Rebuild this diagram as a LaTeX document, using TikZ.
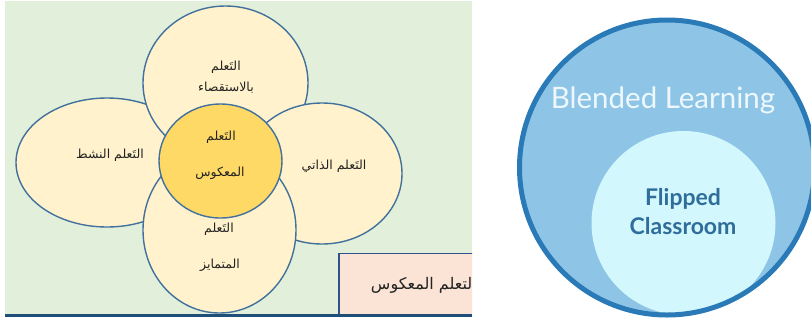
\documentclass[tikz,border=0pt]{standalone}
\usepackage{fontspec}
\setmainfont{Lato}
\newfontfamily\arabicfont[Script=Arabic]{DejaVu Sans}
\newfontfamily\latofont{Lato}
\TeXXeTstate=1
\usetikzlibrary{shapes.geometric}
\definecolor{bggreen}{HTML}{E2EFDA}
\definecolor{petalfill}{HTML}{FFF2CC}
\definecolor{petalline}{HTML}{41719C}
\definecolor{corefill}{HTML}{FFD966}
\definecolor{boxfill}{HTML}{FBE3D6}
\definecolor{boxline}{HTML}{2F528F}
\definecolor{bottomrule}{HTML}{1F4E79}
\definecolor{artext}{HTML}{222222}
\definecolor{outerfill}{HTML}{8EC5E6}
\definecolor{outerline}{HTML}{2A7AB8}
\definecolor{innerfill}{HTML}{D2F7FC}
\definecolor{innertext}{HTML}{2F6E9B}
\definecolor{blendtext}{HTML}{EEF8FC}
\begin{document}
\begin{tikzpicture}[x=1pt,y=-1pt,
  petal/.style={ellipse, draw=petalline, fill=petalfill, line width=1.4pt, inner sep=0pt},
  ar/.style={font=\arabicfont\fontsize{12.5}{14}\selectfont, text=artext, inner sep=0pt},
  arbig/.style={font=\arabicfont\fontsize{16}{18}\selectfont, text=artext, inner sep=0pt},
  entext/.style={font=\latofont\bfseries\fontsize{23}{25}\selectfont, text=innertext, inner sep=0pt}]
\useasboundingbox (0,0) rectangle (811,322);
% left panel
\begin{scope}
\clip (5,0) rectangle (472,318);
\fill[bggreen] (5,1) rectangle (472,314);
\node[petal, minimum width=182pt, minimum height=129pt] (pleft) at (107,162.5) {};
\node[petal, minimum width=165pt, minimum height=154pt] (ptop) at (225.5,83) {};
\node[petal, minimum width=160pt, minimum height=141pt] (pright) at (322,173.5) {};
\node[petal, minimum width=153pt, minimum height=166pt] (pbottom) at (219.5,230) {};
\node[ellipse, draw=petalline, fill=corefill, line width=1.4pt, inner sep=0pt, minimum width=123pt, minimum height=114pt] (core) at (220.5,161) {};
\node[ar] (t1) at (226,67) {\beginR التَعلم\endR};
\node[ar] (t2) at (226,88) {\beginR بالاستقصاء\endR};
\node[ar] (l1) at (110,155) {\beginR التَعلم النشط\endR};
\node[ar] (r1) at (334,166) {\beginR التَعلم الذاتي\endR};
\node[ar] (c1) at (221,137) {\beginR التَعلم\endR};
\node[ar] (c2) at (220,173) {\beginR المعكوس\endR};
\node[ar] (b1) at (219,229) {\beginR التَعلم\endR};
\node[ar] (b2) at (220,265) {\beginR المتمايز\endR};
\node[draw=boxline, fill=boxfill, line width=1.5pt, minimum width=150pt, minimum height=62pt, inner sep=0pt, anchor=north west] (box) at (338,252.5) {};
\node[arbig, anchor=east] (boxtext) at (477,285) {\beginR التعلم المعكوس\endR};
\end{scope}
\draw[draw=bottomrule, line width=3pt] (5,315.5) -- (472,315.5);
% right panel
\begin{scope}
\clip (0,0) rectangle (811,322);
\fill[outerfill] (667,167.5) circle (147.5);
\begin{scope}
\clip (667,167.5) circle (147.5);
\fill[innerfill] (683.5,223) circle (92);
\end{scope}
\draw[outerline, line width=5pt] (667,167.5) circle (147.5);
\end{scope}
\node[font=\latofont\fontsize{29.5}{31}\selectfont, text=blendtext, inner sep=0pt] (blend) at (663,100) {Blended Learning};
\node[entext] (flip) at (683,199) {Flipped};
\node[entext] (class) at (683,226) {Classroom};
\end{tikzpicture}
\end{document}
